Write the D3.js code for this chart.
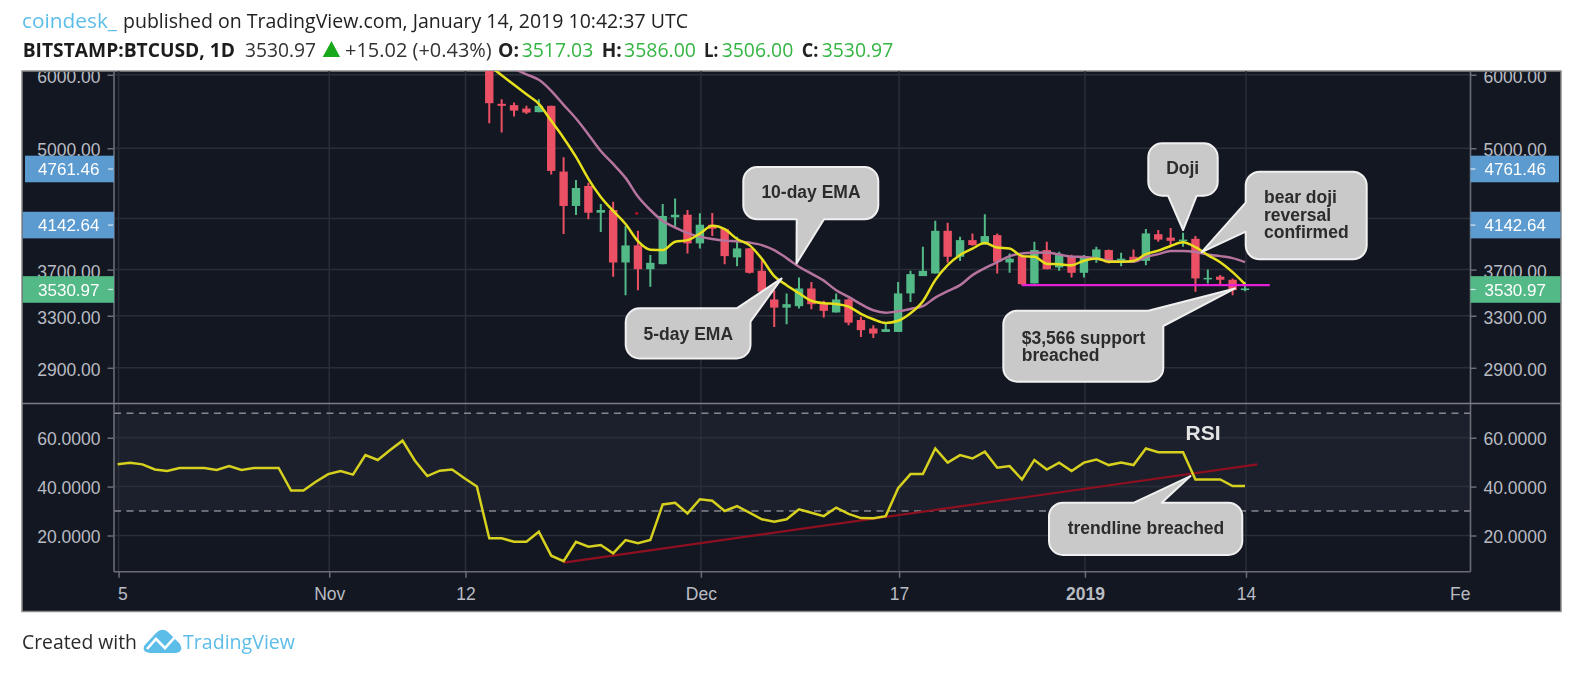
<!DOCTYPE html>
<html><head><meta charset="utf-8">
<script src="https://cdn.jsdelivr.net/npm/d3@7/dist/d3.min.js"></script>
<style>
html,body{margin:0;padding:0;background:#fff;overflow:hidden}
svg{display:block;filter:blur(0.4px)}
text{font-family:"Liberation Sans",Arial,sans-serif}
.hd{font-family:"Open Sans","Noto Sans",sans-serif}
</style></head><body>
<svg id="c" width="1588" height="676"></svg>
<script>
// ---- data: day index 0 = 15 Oct 2018 ----
const firstCandleDay = 30;
const opens = [6250,5583,5565,5518,5469,5555,4719,4333,4554,4261,4290,3766,3929,3704,3750,4213,4240,3949,4136,4092,3814,3900,3689,3436,3367,3379,3531,3407,3327,3436,3265,3197,3170,3170,3488,3641,3665,4074,3820,3981,3939,4031,3766,3826,3575,3884,3720,3826,3671,3795,3884,3766,3820,3781,4040,4006,3974,3994,3612,3636,3608,3517.03];
const highs = [6350,5648,5601,5555,5648,5555,4890,4622,4591,4354,4379,4123,4074,3836,4354,4414,4290,4255,4257,4099,4014,3905,3788,3516,3488,3629,3589,3424,3488,3445,3291,3223,3250,3589,3689,3916,4177,4157,4014,4048,4245,4048,3852,3836,3965,3965,3868,3840,3836,3916,3890,3858,3890,4092,4083,4103,4054,4021,3700,3650,3620,3586];
const lows = [5321,5199,5409,5445,5469,4684,4041,4237,4193,4061,3635,3473,3516,3545,3750,4116,3852,3900,4021,3750,3732,3665,3495,3209,3231,3359,3353,3285,3327,3223,3131,3123,3170,3170,3415,3641,3665,3763,3779,3925,3939,3665,3671,3560,3575,3704,3689,3629,3629,3763,3757,3732,3772,3741,3965,3932,3916,3502,3575,3569,3473,3506];
const closes = [5592,5555,5490,5463,5555,4727,4333,4531,4261,4290,3766,3929,3704,3763,4227,4240,3949,4136,4095,3826,3900,3671,3502,3367,3396,3531,3396,3340,3436,3244,3184,3157,3192,3488,3659,3689,4074,3820,3981,3932,4021,3772,3802,3569,3884,3704,3836,3671,3826,3890,3766,3802,3772,4048,3986,3974,3986,3620,3625,3608,3516,3530.97];
const ema5Start = 30;
const ema5 = [6135,5994,5853,5716,5583,5352,5130,4894,4635,4431,4280,4143,3971,3888,3884,3965,3981,4046,4126,4092,3992,3932,3801,3641,3560,3490,3425,3404,3398,3375,3316,3271,3241,3259,3320,3421,3605,3741,3836,3898,3952,3908,3900,3826,3820,3755,3750,3741,3783,3804,3774,3774,3781,3845,3879,3923,3959,3912,3836,3769,3677,3569];
const ema10Start = 32;
const ema10 = [6090,6007,5926,5767,5569,5383,5175,4966,4809,4646,4436,4290,4174,4107,4051,4016,3992,3976,3971,3957,3932,3884,3807,3727,3663,3600,3516,3458,3396,3345,3325,3337,3356,3379,3452,3507,3560,3650,3714,3769,3826,3852,3858,3860,3841,3821,3817,3804,3783,3774,3772,3817,3845,3875,3875,3865,3841,3826,3807,3769];
const rsi = [49.1,49.8,49.1,47,46.4,47.6,47.6,47.6,46.8,48.4,46.8,47.6,47.6,47.6,38.4,38.4,42,45.1,46.4,44.9,52.9,50.9,55,58.8,50.6,44.3,46.5,47,43.4,40,18.8,18.8,17.4,17.4,21.5,11.7,9.5,17.4,15.4,16.1,12.7,18.1,16.8,18.1,32.7,33.4,29,34.8,34.2,30,32,29.3,26.6,25.6,26.6,30.7,29.3,27.9,31.4,28.8,27.1,27,27.9,39.3,45.1,45.1,55.6,49.8,52.9,51.5,54.3,47.7,48.4,42.9,50.9,47,49.8,46.4,49.8,51.1,48.8,49.8,48.8,55.6,54.1,54.1,54.1,42.9,42.9,42.9,40.2,40.2];
const priceTicks = [6000,5000,4200,3700,3300,2900];
const unlabeledPriceTick = 4200;
const rsiTicks = [60,40,20];
const rsiBands = [70,30];
const xTickDays = [0,17,28,47,63,78,91,109];
const xTickLabels = ["5","Nov","12","Dec","17","2019","14","Fe"];
const supportLine = {from:73,to:93,price:3560};
const rsiTrend = {from:36,to:92,v0:8.9,v1:49.1};
const strayDot = {day:41.9,price:4255};
const marks = [{price:4761.46,color:"#5b9bd0"},{price:4142.64,color:"#5b9bd0"},{price:3530.97,color:"#53b987"}];

// ---- layout ----
const F={l:22,r:1561,t:71,b:611.5};
const P={l:114,r:1470.5,t:71,sep:403.5,b:571.7};
const svg=d3.select("#c");
const x=d3.scaleLinear().domain([0,91]).range([117.6,1245]);
const y=d3.scaleLog().domain([6000,2900]).range([74.8,367.8]);
const yr=d3.scaleLinear().domain([70,30]).range([413.3,511]);
const BG="#131722",GRID="#2a2e39",AX="#6a6d75",TXT="#b9bcc2";
const UP="#53b987",DN="#ec5064";
const defs=svg.append("defs");
defs.append("clipPath").attr("id","pp").append("rect").attr("x",P.l).attr("y",P.t).attr("width",P.r-P.l).attr("height",P.sep-P.t);
defs.append("clipPath").attr("id","fr").append("rect").attr("x",F.l).attr("y",F.t+1).attr("width",F.r-F.l).attr("height",F.b-F.t-1);

svg.append("rect").attr("x",F.l).attr("y",F.t).attr("width",F.r-F.l).attr("height",F.b-F.t).attr("fill",BG).attr("stroke","#8b8b8b").attr("stroke-width",1.5);
svg.append("rect").attr("x",P.l).attr("y",P.sep).attr("width",P.r-P.l).attr("height",yr(70)-P.sep).attr("fill","#181c27");
svg.append("rect").attr("x",P.l).attr("y",yr(70)).attr("width",P.r-P.l).attr("height",yr(30)-yr(70)).attr("fill","#1c202c");

// grid
const g=svg.append("g").attr("stroke",GRID).attr("stroke-width",1.5);
xTickDays.slice(0,-1).forEach(d=>g.append("line").attr("x1",x(d)+1).attr("x2",x(d)+1).attr("y1",P.t).attr("y2",P.b));
priceTicks.forEach(p=>g.append("line").attr("x1",P.l).attr("x2",P.r).attr("y1",y(p)).attr("y2",y(p)));
rsiTicks.forEach(v=>g.append("line").attr("x1",P.l).attr("x2",P.r).attr("y1",yr(v)).attr("y2",yr(v)));
rsiBands.forEach(v=>svg.append("line").attr("x1",P.l).attr("x2",P.r).attr("y1",yr(v)).attr("y2",yr(v)).attr("stroke","#84878f").attr("stroke-width",1.5).attr("stroke-dasharray","7 5.5"));

// candles
const pane=svg.append("g").attr("clip-path","url(#pp)");
const candles=opens.map((o,i)=>({d:firstCandleDay+i,o,h:highs[i],l:lows[i],c:closes[i]}));
const cg=pane.selectAll("g.c").data(candles).join("g").attr("class","c").attr("fill",d=>d.c>=d.o?UP:DN).attr("stroke",d=>d.c>=d.o?UP:DN);
cg.append("line").attr("x1",d=>x(d.d)).attr("x2",d=>x(d.d)).attr("y1",d=>y(d.h)).attr("y2",d=>y(d.l)).attr("stroke-width",2);
cg.append("rect").attr("x",d=>x(d.d)-4.2).attr("width",8.4).attr("stroke","none")
  .attr("y",d=>y(Math.max(d.o,d.c))).attr("height",d=>Math.max(1.5,Math.abs(y(d.o)-y(d.c))));

// EMAs
const ln=d3.line().curve(d3.curveMonotoneX);
pane.append("path").attr("d",ln(ema10.map((v,i)=>[x(ema10Start+i),y(v)]))).attr("fill","none").attr("stroke","#b5749e").attr("stroke-width",2.5);
pane.append("path").attr("d",ln(ema5.map((v,i)=>[x(ema5Start+i),y(v)]))).attr("fill","none").attr("stroke","#e6e01c").attr("stroke-width",2.5);
pane.append("circle").attr("cx",x(strayDot.day)).attr("cy",y(strayDot.price)).attr("r",1.6).attr("fill","#b01020");
pane.append("line").attr("x1",x(supportLine.from)).attr("x2",x(supportLine.to)).attr("y1",y(supportLine.price)).attr("y2",y(supportLine.price)).attr("stroke","#e41fd6").attr("stroke-width",2.2);

// RSI
svg.append("line").attr("x1",x(rsiTrend.from)).attr("x2",x(rsiTrend.to)).attr("y1",yr(rsiTrend.v0)).attr("y2",yr(rsiTrend.v1)).attr("stroke","#8e1020").attr("stroke-width",2.2);
svg.append("path").attr("d",d3.line()(rsi.map((v,i)=>[x(i),yr(v)]))).attr("fill","none").attr("stroke","#d6d01e").attr("stroke-width",2.5);

// axes
function sty(a,dy){a.select(".domain").remove();a.selectAll("line").attr("stroke",AX).attr("stroke-width",1.5);
  a.selectAll("text").attr("fill",TXT).attr("transform",`translate(0,${dy})`).style("font-size","17.5px").style("font-family",'"Liberation Sans",Arial,sans-serif');}
const axes=svg.append("g").attr("clip-path","url(#fr)");
const f2=d=>d===unlabeledPriceTick?"":d.toFixed(2),f4=d=>d.toFixed(4);
sty(axes.append("g").attr("transform",`translate(${P.l-.5},0)`).call(d3.axisLeft(y).tickValues(priceTicks).tickFormat(f2).tickSize(6).tickPadding(7)),2);
sty(axes.append("g").attr("transform",`translate(${P.r},0)`).call(d3.axisRight(y).tickValues(priceTicks).tickFormat(f2).tickSize(6).tickPadding(7)),2);
sty(axes.append("g").attr("transform",`translate(${P.l-.5},0)`).call(d3.axisLeft(yr).tickValues(rsiTicks).tickFormat(f4).tickSize(6).tickPadding(7)),1);
sty(axes.append("g").attr("transform",`translate(${P.r},0)`).call(d3.axisRight(yr).tickValues(rsiTicks).tickFormat(f4).tickSize(6).tickPadding(7)),1);
const xa=axes.append("g").attr("transform",`translate(1,${P.b})`).call(d3.axisBottom(x).tickValues(xTickDays).tickFormat((d,i)=>xTickLabels[i]).tickSize(6).tickPadding(8));
sty(xa,2);
xa.selectAll(".tick").filter((d,i)=>xTickLabels[i]==="Fe").select("line").remove();
xa.selectAll(".tick text").each(function(d,i){const t=d3.select(this);
  if(xTickLabels[i]==="5"){t.attr("text-anchor","start").attr("x",-1);}
  if(xTickLabels[i]==="Fe"){t.attr("text-anchor","end").attr("x",1);}
  if(xTickLabels[i]==="2019"){t.style("font-weight","bold");}
});
// frame lines
const fl=svg.append("g").attr("stroke",AX).attr("stroke-width",1.6);
fl.append("line").attr("x1",P.l).attr("x2",P.l).attr("y1",P.t).attr("y2",P.b);
fl.append("line").attr("x1",P.r).attr("x2",P.r).attr("y1",P.t).attr("y2",P.b);
fl.append("line").attr("x1",P.l).attr("x2",P.r).attr("y1",P.b).attr("y2",P.b);
svg.append("line").attr("x1",F.l).attr("x2",F.r).attr("y1",P.sep).attr("y2",P.sep).attr("stroke","#7b7e86").attr("stroke-width",1.5);

// price marks
marks.forEach((m,i)=>{
  const cy=y(m.price)+1, h=26.6;
  const lx=i===0?25:22.7;
  svg.append("rect").attr("x",lx).attr("y",cy-h/2).attr("width",P.l-lx).attr("height",h).attr("fill",m.color);
  svg.append("rect").attr("x",P.r).attr("y",cy-h/2).attr("width",(i===0?1559:1560.5)-P.r).attr("height",h).attr("fill",m.color);
  [[108,113],[P.r,P.r+5]].forEach(s=>svg.append("line").attr("x1",s[0]).attr("x2",s[1]).attr("y1",cy).attr("y2",cy).attr("stroke","#d8e6f0").attr("stroke-width",1.2));
  svg.append("text").attr("x",99.5).attr("y",cy).attr("dy",".36em").attr("text-anchor","end").attr("fill","#fff").style("font-size","17px").text(m.price.toFixed(2));
  svg.append("text").attr("x",1484.5).attr("y",cy).attr("dy",".36em").attr("fill","#fff").style("font-size","17px").text(m.price.toFixed(2));
});

// RSI label
svg.append("text").attr("x",1203).attr("y",439.5).attr("text-anchor","middle").attr("fill","#e4e4e4").style("font-size","21px").style("font-weight","bold").text("RSI");

// callouts
const callouts=[
 {box:[743.3,167,878.3,219.3],edge:"bottom",a:[824,219.3],b:[796.7,219.3],tip:[x(54.8),y(3757)],lines:["10-day EMA"],tx:811,anchor:"middle",ty:[192]},
 {box:[625.7,308.3,750.5,358.5],edge:"topright",a:[736.7,308.3],b:[750.5,321.7],tip:[x(53.6),y(3620)],lines:["5-day EMA"],tx:688.3,anchor:"middle",ty:[333.3]},
 {box:[1148.3,143.3,1217.7,195.7],edge:"bottom",a:[1196.7,195.7],b:[1168,195.7],tip:[x(86),y(4082)],lines:["Doji"],tx:1182.7,anchor:"middle",ty:[167.7]},
 {box:[1245.7,171.7,1366.7,259.3],edge:"left",a:[1245.7,231.7],b:[1245.7,202.7],tip:[x(87.5),y(3864)],lines:["bear doji","reversal","confirmed"],tx:1264,anchor:"start",ty:[197,214.7,232]},
 {box:[1003.3,310.7,1163.3,381.7],edge:"topright",a:[1148.3,310.7],b:[1163.3,326],tip:[x(90.2),y(3531)],lines:["$3,566 support","breached"],tx:1021.7,anchor:"start",ty:[337.7,355]},
 {box:[1049,502.7,1242.3,555],edge:"top",a:[1134,502.7],b:[1161.7,502.7],tip:[x(86.6),yr(44.3)],lines:["trendline breached"],tx:1146,anchor:"middle",ty:[528]}
];
function cpath(c){const [x0,y0,x1,y1]=c.box,r=14;
  let s=`M${x0+r},${y0}`;
  const T=`L${c.a} L${c.tip} L${c.b}`;
  const arc=(ex,ey)=>`A${r},${r} 0 0 1 ${ex},${ey}`;
  if(c.edge==="top")s+=T;
  if(c.edge==="topright")s+=T; else s+=`L${x1-r},${y0}`+arc(x1,y0+r);
  s+=`L${x1},${y1-r}`+arc(x1-r,y1);
  if(c.edge==="bottom")s+=T;
  s+=`L${x0+r},${y1}`+arc(x0,y1-r);
  if(c.edge==="left")s+=T;
  s+=`L${x0},${y0+r}`+arc(x0+r,y0)+"Z";
  return s;}
callouts.forEach(c=>{
  svg.append("path").attr("d",cpath(c)).attr("fill","#c9c9c9").attr("stroke","#f0f0f0").attr("stroke-width",2).attr("stroke-linejoin","round");
  c.lines.forEach((t,i)=>svg.append("text").attr("x",c.tx).attr("y",c.ty[i]).attr("dy",".36em").attr("text-anchor",c.anchor).attr("fill","#2c2c2c").style("font-size","17.5px").style("font-weight","bold").text(t));
});

// header
function hd(t,x0,x1,yy,col,bold){svg.append("text").attr("class","hd").attr("x",x0).attr("y",yy).attr("fill",col).attr("textLength",x1-x0).attr("lengthAdjust","spacingAndGlyphs").style("font-size","19.5px").style("font-weight",bold?"700":"400").text(t);}
hd("coindesk_",22,117,28,"#5cbde8");
hd("published on TradingView.com, January 14, 2019 10:42:37 UTC",123,688,28,"#222");
hd("BITSTAMP:BTCUSD, 1D",22.7,235,57,"#1c1c1c",true);
hd("3530.97",245,316,57,"#333");
svg.append("path").attr("d","M322.7,57 L331.5,41 L340,57 Z").attr("fill","#17a81c");
hd("+15.02 (+0.43%)",345,491.7,57,"#333");
const G="#35b544";
hd("O:",498,519,57,"#222",true);hd("3517.03",521.7,593.3,57,G);
hd("H:",601.7,621.7,57,"#222",true);hd("3586.00",624,696,57,G);
hd("L:",704,718.3,57,"#222",true);hd("3506.00",721.7,793.3,57,G);
hd("C:",801.7,818.3,57,"#222",true);hd("3530.97",821.7,893.3,57,G);

// footer
hd("Created with",22,137,649,"#2a2a2a");
const logo=svg.append("g");
logo.append("path").attr("d","M144,646 L156,633 Q162,627 168,632 L180,644 Q184,652 176,653 L150,653 Q142,652 144,646 Z").attr("fill","#5cbde8");
logo.append("path").attr("d","M147,649 L156,639 L165,648 L175,637").attr("fill","none").attr("stroke","#fff").attr("stroke-width",2.6);
hd("TradingView",183,295,649,"#5cbde8");
</script></body></html>
